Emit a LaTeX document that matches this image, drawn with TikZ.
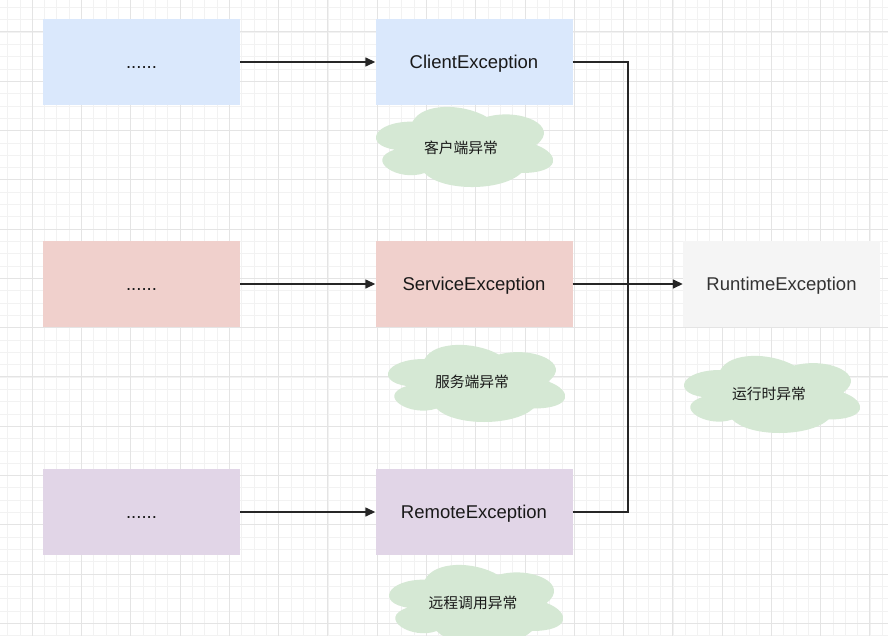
\documentclass[tikz,border=0pt]{standalone}
\usepackage{fontspec}
\setmainfont{Liberation Sans}
\newfontfamily\cjk{Noto Sans CJK SC}
\usetikzlibrary{arrows.meta}
\definecolor{cblue}{HTML}{DAE8FC}
\definecolor{cred}{HTML}{F0D0CC}
\definecolor{cpurple}{HTML}{E1D5E7}
\definecolor{cgrey}{HTML}{F5F5F5}
\definecolor{cgreen}{HTML}{D5E8D4}
\definecolor{gminor}{HTML}{F2F2F2}
\definecolor{gmajor}{HTML}{E4E4E4}
\tikzset{
  box/.style={draw=none, minimum width=197pt, minimum height=86pt, inner sep=0pt, text height=13pt, text depth=0pt, font=\fontsize{18.5}{21}\selectfont, text=black!90},
  cloudtext/.style={draw=none, inner sep=0pt, font=\cjk\fontsize{14.8}{17}\selectfont, text=black!90},
  conn/.style={line width=1.4pt, black!85},
  arr/.style={conn, -{Triangle[length=10pt,width=9pt]}}
}
% #1 name, #2 left, #3 top, #4 width, #5 height (of the draw.io cloud frame), #6 #7 text centre, #8 text
\newcommand\mycloud[8]{%
  \begin{scope}[shift={(#2,#3)}, x=#4pt, y=-#5pt]
    \fill[cgreen] (0.25,0.25) .. controls (0.05,0.25) and (0,0.5) .. (0.16,0.55)
      .. controls (0,0.66) and (0.18,0.9) .. (0.31,0.8)
      .. controls (0.4,1) and (0.7,1) .. (0.8,0.8)
      .. controls (1,0.8) and (1,0.6) .. (0.875,0.5)
      .. controls (1,0.3) and (0.8,0.1) .. (0.625,0.2)
      .. controls (0.5,0.05) and (0.3,0.05) .. (0.25,0.25) -- cycle;
  \end{scope}
  \node[cloudtext] (#1) at (#6,#7) {#8};%
}
\begin{document}
\begin{tikzpicture}[x=1pt,y=-1pt]
\useasboundingbox (0,0) rectangle (888,636);
\fill[white] (0,0) rectangle (888,636);
% grid
\foreach \i in {-2,...,72} {
  \draw[gminor, line width=0.7pt] ({32.2+\i*12.32},0) -- ({32.2+\i*12.32},636);
}
\foreach \i in {-2,...,51} {
  \draw[gminor, line width=0.7pt] (0,{32+\i*12.32}) -- (888,{32+\i*12.32});
}
\foreach \i in {0,...,18} {
  \draw[gmajor, line width=1pt] ({32.2+\i*49.28},0) -- ({32.2+\i*49.28},636);
}
\foreach \i in {0,...,12} {
  \draw[gmajor, line width=1pt] (0,{32+\i*49.28}) -- (888,{32+\i*49.28});
}
% boxes
\node[box, fill=cblue] (l1) at (141.5,62) {......};
\node[box, fill=cred] (l2) at (141.5,284) {......};
\node[box, fill=cpurple] (l3) at (141.5,512) {......};
\node[box, fill=cblue] (client) at (474,62) {ClientException};
\node[box, fill=cred] (service) at (474,284) {ServiceException};
\node[box, fill=cpurple] (remote) at (474,512) {RemoteException};
\node[box, fill=cgrey, text=black!80] (runtime) at (781.5,284) {RuntimeException};
% clouds
\mycloud{c1}{363.1}{98.2}{197.8}{93.5}{461}{148}{客户端异常}
\mycloud{c2}{375.1}{336.5}{197.8}{90}{472}{382}{服务端异常}
\mycloud{c3}{671.2}{347.5}{196.6}{90}{769}{394}{运行时异常}
\mycloud{c4}{376.4}{556.2}{194.4}{93.5}{473}{603}{远程调用异常}
% connectors
\coordinate (j) at (628,284);
\draw[arr] (l1) -- (client);
\draw[arr] (l2) -- (service);
\draw[arr] (l3) -- (remote);
\draw[conn] (client.east) -| (j);
\draw[conn] (remote.east) -| (j);
\draw[arr] (service) -- (runtime);
\end{tikzpicture}
\end{document}
